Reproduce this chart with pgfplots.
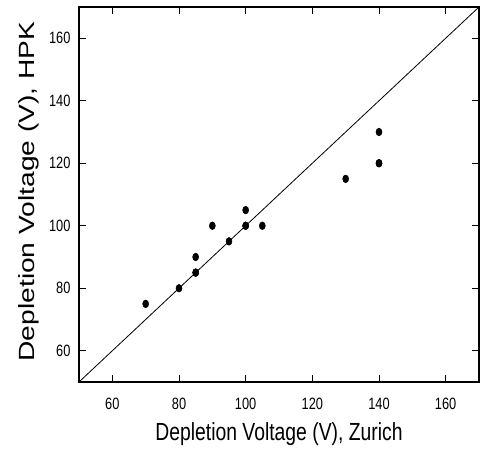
\documentclass[border=0pt]{standalone}
\usepackage{pgfplots}
\pgfplotsset{compat=1.18}
\usepackage{graphicx}
\usepackage{fontspec}
\setmainfont{Liberation Sans}
\begin{document}
\begin{tikzpicture}
\begin{axis}[
  width=300pt, height=281.25pt, scale only axis,
  xmin=50, xmax=170, ymin=50, ymax=170,
  xtick={60,80,100,120,140,160},
  ytick={60,80,100,120,140,160},
  minor tick num=0,
  tick align=inside,
  tick pos=both,
  xticklabel pos=lower, yticklabel pos=left,
  major tick length=5.5pt,
  tick style={black, line width=0.6pt},
  axis line style={line width=0.9pt},
  /pgf/number format/assume math mode=true,
  tick label style={font=\fontsize{9.6}{11}\selectfont, inner sep=0pt},
  xticklabel={\scalebox{1}[1.28]{\pgfmathprintnumber{\tick}}},
  yticklabel={\scalebox{1}[1.28]{\pgfmathprintnumber{\tick}}},
  xticklabel style={anchor=north, yshift=-12pt},
  yticklabel style={anchor=east, xshift=-6.2pt},
  xlabel={\scalebox{1}[1.28]{Depletion Voltage (V), Zurich}},
  ylabel={\scalebox{1.28}[1]{Depletion Voltage (V), HPK}},
  xlabel style={font=\fontsize{14.5}{16}\selectfont, at={([yshift=-44pt]axis description cs:0.5,0)}, anchor=base, inner sep=0pt},
  ylabel style={font=\fontsize{16.5}{18}\selectfont, at={([xshift=-33pt]axis description cs:0,0.508)}, anchor=base, inner sep=0pt, rotate=0},
]
\addplot[black, line width=0.6pt] coordinates {(50,50) (170,170)};
\addplot[only marks, mark=*, mark size=2.25pt, mark options={black, fill=black, yscale=1.28}] coordinates {
(70,75) (80,80) (85,85) (85,85) (85,90) (90,100) (95,95) (100,100) (100,100)
(100,105) (105,100) (130,115) (140,120) (140,120) (140,130)
};
\end{axis}
\pgfresetboundingbox
\path[use as bounding box] ([shift={(-59.25pt,-57.75pt)}]current axis.south west) rectangle ([shift={(3.75pt,5.25pt)}]current axis.north east);
\end{tikzpicture}
\end{document}
